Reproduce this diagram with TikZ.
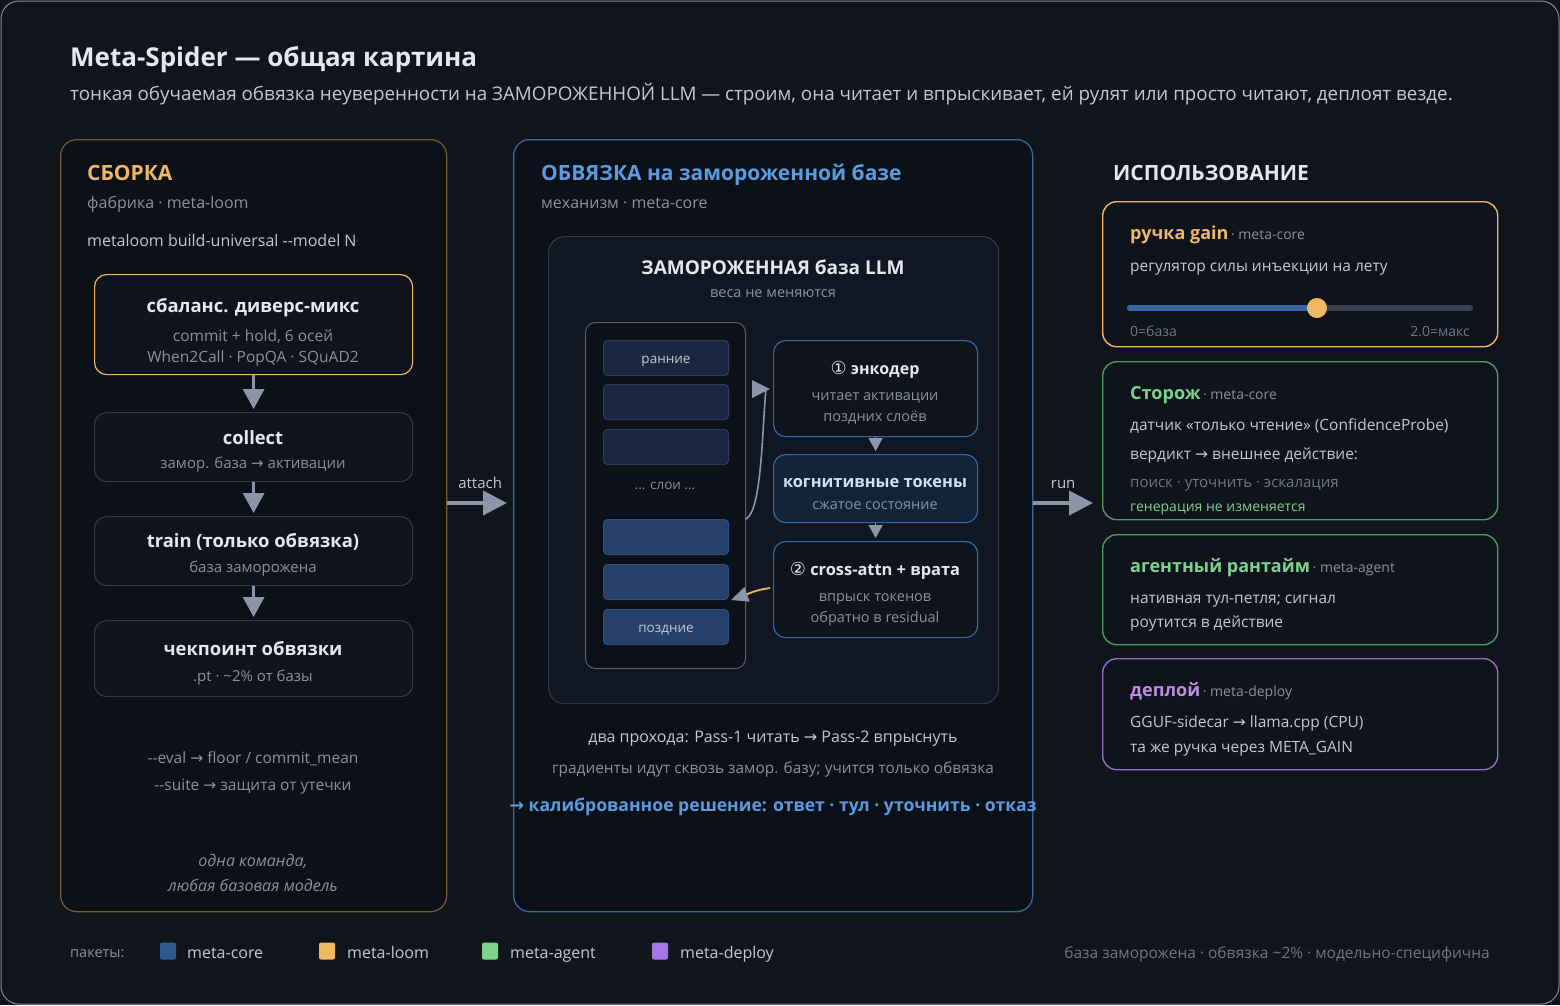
\documentclass[tikz,border=0pt]{standalone}
\usepackage{fontspec}
\setmainfont{Open Sans}
\newfontfamily\djv{DejaVu Sans}
\usetikzlibrary{arrows.meta}
\definecolor{bgc}{HTML}{10141B}
\definecolor{panelc}{HTML}{0C1017}
\definecolor{goldc}{HTML}{F0B862}
\definecolor{goldd}{HTML}{6E5A36}
\definecolor{bluec}{HTML}{5B9BE0}
\definecolor{blued}{HTML}{3568A4}
\definecolor{greenc}{HTML}{7DD38A}
\definecolor{greend}{HTML}{4E9A5C}
\definecolor{purc}{HTML}{C08CE0}
\definecolor{purd}{HTML}{9A6CC0}
\definecolor{txtw}{HTML}{E4E7ED}
\definecolor{txtb}{HTML}{C3C8D1}
\definecolor{txtg}{HTML}{8A92A0}
\definecolor{txtd}{HTML}{6F7886}
\definecolor{boxb}{HTML}{2E3848}
\definecolor{boxf}{HTML}{0E131C}
\definecolor{frzf}{HTML}{111722}
\definecolor{trackc}{HTML}{3A4252}
\definecolor{arrg}{HTML}{8D95A8}
\definecolor{layE}{HTML}{1B2740}
\definecolor{layEb}{HTML}{2C3D5A}
\definecolor{layL}{HTML}{25406A}
\definecolor{layLb}{HTML}{2F4E7C}
\definecolor{cogf}{HTML}{13233A}
\definecolor{legblue}{HTML}{2D5A8E}
\newcommand\fsz[1]{\fontsize{#1}{#1}\selectfont}
\newcommand\rarr{{\djv\char"2192}}
\begin{document}
\begin{tikzpicture}[x=1pt,y=-1pt,
  panel/.style={rounded corners=16pt, fill=panelc, line width=1.3pt, anchor=north west, inner sep=0},
  stepbox/.style={rounded corners=12pt, fill=boxf, draw=boxb, line width=1.2pt, anchor=north west, inner sep=0},
  card/.style={rounded corners=14pt, fill=boxf, line width=1.4pt, anchor=north west, inner sep=0},
  layer/.style={rounded corners=4pt, line width=1pt, anchor=north west, inner sep=0, minimum width=125, minimum height=35},
  txt/.style={inner sep=0, anchor=base west},
  ctxt/.style={inner sep=0, anchor=base},
  vflow/.style={draw=arrg, line width=3.5pt, -{Triangle[width=21pt,length=20pt]}},
  hflow/.style={draw=arrg, line width=4pt, -{Triangle[width=24pt,length=24pt]}},
]
% background
\fill[bgc] (0,0) rectangle (1560,1005);
\draw[rounded corners=18pt, draw=boxb!60, line width=1pt] (1,1) rectangle (1559,1004);
\useasboundingbox (0,0) rectangle (1560,1005);

% title
\node[txt, text=txtw] (title) at (70,66) {\fsz{26}\bfseries Meta-Spider — общая картина};
\node[txt, text=txtb] (subtitle) at (70,100) {\fsz{18.8}тонкая обучаемая обвязка неуверенности на ЗАМОРОЖЕННОЙ LLM — строим, она читает и впрыскивает, ей рулят или просто читают, деплоят везде.};

% ===== left panel =====
\node[panel, draw=goldd, minimum width=386, minimum height=772] (left) at (60,139) {};
\node[txt, text=goldc] (lt) at (87,180) {\fsz{21}\bfseries СБОРКА};
\node[txt, text=txtg] (ls) at (87,208) {\fsz{16}фабрика · meta-loom};
\node[txt, text=txtb] (lc) at (87,246) {\fsz{16}metaloom build-universal -{}-model N};

\node[stepbox, draw=goldc, minimum width=318, minimum height=100] (b1) at (94,274) {};
\node[ctxt, text=txtw] at (253,312) {\fsz{18.4}\bfseries сбаланс. диверс-микс};
\node[ctxt, text=txtg] at (253,341) {\fsz{15.5}commit + hold, 6 осей};
\node[ctxt, text=txtg] at (253,362) {\fsz{15.5}When2Call · PopQA · SQuAD2};

\node[stepbox, minimum width=318, minimum height=69] (b2) at (94,412) {};
\node[ctxt, text=txtw] at (253,444) {\fsz{18.4}\bfseries collect};
\node[ctxt, text=txtg] at (253,468) {\fsz{15}замор. база \rarr{} активации};

\node[stepbox, minimum width=318, minimum height=69] (b3) at (94,516) {};
\node[ctxt, text=txtw] at (253,547) {\fsz{18.4}\bfseries train (только обвязка)};
\node[ctxt, text=txtg] at (253,572) {\fsz{15}база заморожена};

\node[stepbox, minimum width=318, minimum height=76] (b4) at (94,620) {};
\node[ctxt, text=txtw] at (253,655) {\fsz{18.4}\bfseries чекпоинт обвязки};
\node[ctxt, text=txtg] at (253,681) {\fsz{15}.pt · \textasciitilde2\% от базы};

\draw[vflow, shorten >=3pt] (b1.south) -- (b2.north);
\draw[vflow, shorten >=3pt] (b2.south) -- (b3.north);
\draw[vflow, shorten >=3pt] (b3.south) -- (b4.north);

\node[ctxt, text=txtg] at (253,763) {\fsz{15.5}-{}-eval \rarr{} floor / commit\_mean};
\node[ctxt, text=txtg] at (253,790) {\fsz{15.5}-{}-suite \rarr{} защита от утечки};
\node[ctxt, text=txtg] at (253,866) {\fsz{16}\itshape одна команда,};
\node[ctxt, text=txtg] at (253,891) {\fsz{16}\itshape любая базовая модель};

% ===== middle panel =====
\node[panel, draw=blued, minimum width=519, minimum height=772] (mid) at (513,139) {};
\node[txt, text=bluec] (mt) at (541,180) {\fsz{21}\bfseries ОБВЯЗКА на замороженной базе};
\node[txt, text=txtg] (ms) at (541,208) {\fsz{16}механизм · meta-core};

\node[rounded corners=16pt, fill=frzf, draw=boxb, line width=1.2pt, anchor=north west, inner sep=0, minimum width=450, minimum height=467] (frozen) at (548,236) {};
\node[ctxt, text=txtw] at (773,274) {\fsz{19}\bfseries ЗАМОРОЖЕННАЯ база LLM};
\node[ctxt, text=txtg] at (773,297) {\fsz{14.5}веса не меняются};

\node[rounded corners=10pt, fill=panelc, draw=boxb!80, line width=1pt, anchor=north west, inner sep=0, minimum width=160, minimum height=346] (stack) at (585,322) {};
\node[layer, fill=layE, draw=layEb] (l1) at (603,340) {};
\node[ctxt, text=txtb] at (l1.center) [yshift=-5pt] {\fsz{13.5}ранние};
\node[layer, fill=layE, draw=layEb] (l2) at (603,384) {};
\node[layer, fill=layE, draw=layEb] (l3) at (603,429) {};
\node[ctxt, text=txtg] at (665,489) {\fsz{13.5}... слои ...};
\node[layer, fill=layL, draw=layLb] (l4) at (603,519) {};
\node[layer, fill=layL, draw=layLb] (l5) at (603,564) {};
\node[layer, fill=layL, draw=layLb] (l6) at (603,609) {};
\node[ctxt, text=txtb] at (l6.center) [yshift=-5pt] {\fsz{13.5}поздние};

\node[stepbox, draw=blued, minimum width=204, minimum height=96] (enc) at (773,340) {};
\node[ctxt, text=txtw] at (875,374) {\fsz{16}{\djv\fsz{18}\char"2460} \bfseries энкодер};
\node[ctxt, text=txtg] at (875,400) {\fsz{14.5}читает активации};
\node[ctxt, text=txtg] at (875,421) {\fsz{14.5}поздних слоёв};

\node[stepbox, draw=blued, fill=cogf, minimum width=204, minimum height=68] (cog) at (773,454) {};
\node[ctxt, text=txtw!90!bluec] at (875,487) {\fsz{16.4}\bfseries когнитивные токены};
\node[ctxt, text=txtg] at (875,509) {\fsz{14.5}сжатое состояние};

\node[stepbox, draw=blued, minimum width=204, minimum height=96] (xat) at (773,541) {};
\node[ctxt, text=txtw] at (875,575) {\fsz{16.4}{\djv\fsz{18}\char"2461} \bfseries cross-attn + врата};
\node[ctxt, text=txtg] at (875,601) {\fsz{14.5}впрыск токенов};
\node[ctxt, text=txtg] at (875,622) {\fsz{14.5}обратно в residual};

\draw[draw=arrg, line width=1.5pt, -{Triangle[width=14pt,length=13pt]}, shorten >=3pt] (enc.south) -- (cog.north);
\draw[draw=arrg, line width=1.5pt, -{Triangle[width=14pt,length=13pt]}, shorten >=3pt] (cog.south) -- (xat.north);

% read curve: late layers -> encoder
\coordinate (cs) at (746,519);
\coordinate (ctop) at (766,389);
\coordinate (ce) at (770,389);
\draw[draw=arrg, line width=1.6pt, line cap=round] (cs) .. controls (762,510) and (762,430) .. (ctop);
\fill[arrg] (752,380) -- (ce) -- (752,398) -- cycle;
% inject curve: cross-attn -> late layer
\coordinate (os) at (770,588);
\coordinate (oe) at (731,600);
\draw[draw=goldc, line width=1.8pt, -{Triangle[width=15pt,length=17pt,color=arrg]}] (os) .. controls (755,590) and (748,594) .. (oe);

\node[ctxt, text=txtb] at (773,742) {\fsz{16}два прохода: Pass-1 читать \rarr{} Pass-2 впрыснуть};
\node[ctxt, text=txtg] at (773,773) {\fsz{15.4}градиенты идут сквозь замор. базу; учится только обвязка};
\node[ctxt, text=bluec] at (773,811) {\fsz{17.6}\bfseries \rarr{} калиброванное решение: ответ · тул · уточнить · отказ};

% ===== inter-panel arrows =====
\draw[hflow, shorten >=6pt] (left.east |- 0,503) -- (mid.west |- 0,503) node[midway, above=12pt, text=txtb, inner sep=0] {\fsz{15}attach};
\coordinate (runend) at (1093,503);
\draw[hflow] (mid.east |- 0,503) -- (runend) node[midway, above=12pt, text=txtb, inner sep=0] {\fsz{15}run};

% ===== right column =====
\node[txt, text=txtw] (rt) at (1113,180) {\fsz{21}\bfseries ИСПОЛЬЗОВАНИЕ};

\node[card, draw=goldc, minimum width=395, minimum height=145] (c1) at (1102,201) {};
\node[txt] at (1130,239) {{\fsz{18}\bfseries\color{goldc}ручка gain} {\fsz{14}\color{txtg}· meta-core}};
\node[txt, text=txtb] at (1130,271) {\fsz{15.5}регулятор силы инъекции на лету};
\draw[line width=6pt, line cap=round, draw=trackc] (1130,308) -- (1470,308);
\draw[line width=6pt, line cap=round, draw=blued] (1130,308) -- (1317,308);
\node[circle, fill=goldc, minimum size=20pt, inner sep=0] (knob) at (1317,308) {};
\node[txt, text=txtd] at (1130,336) {\fsz{14}0=база};
\node[inner sep=0, anchor=base east, text=txtd] at (1470,336) {\fsz{14}2.0=макс};

\node[card, draw=greend, minimum width=395, minimum height=158] (c2) at (1102,361) {};
\node[txt] at (1130,399) {{\fsz{18}\bfseries\color{greenc}Сторож} {\fsz{14}\color{txtg}· meta-core}};
\node[txt, text=txtb] at (1130,430) {\fsz{15.5}датчик «только чтение» (ConfidenceProbe)};
\node[txt, text=txtb] at (1130,459) {\fsz{15.5}вердикт \rarr{} внешнее действие:};
\node[txt, text=txtd] at (1130,487) {\fsz{15}поиск · уточнить · эскалация};
\node[txt, text=greenc] at (1130,511) {\fsz{14}генерация не изменяется};

\node[card, draw=greend, minimum width=395, minimum height=110] (c3) at (1102,534) {};
\node[txt] at (1130,572) {{\fsz{18}\bfseries\color{greenc}агентный рантайм} {\fsz{14}\color{txtg}· meta-agent}};
\node[txt, text=txtb] at (1130,603) {\fsz{15.5}нативная тул-петля; сигнал};
\node[txt, text=txtb] at (1130,627) {\fsz{15.5}роутится в действие};

\node[card, draw=purd, minimum width=395, minimum height=111] (c4) at (1102,658) {};
\node[txt] at (1130,696) {{\fsz{18}\bfseries\color{purc}деплой} {\fsz{14}\color{txtg}· meta-deploy}};
\node[txt, text=txtb] at (1130,727) {\fsz{15.5}GGUF-sidecar \rarr{} llama.cpp (CPU)};
\node[txt, text=txtb] at (1130,752) {\fsz{15.5}та же ручка через META\_GAIN};

% ===== legend =====
\node[txt, text=txtg] at (70,957) {\fsz{14.5}пакеты:};
\node[rounded corners=2pt, fill=legblue, minimum width=16, minimum height=17, inner sep=0] (k1) at (168,951) {};
\node[txt, text=txtb] at (187,958) {\fsz{16}meta-core};
\node[rounded corners=2pt, fill=goldc, minimum width=16, minimum height=17, inner sep=0] (k2) at (327,951) {};
\node[txt, text=txtb] at (347,958) {\fsz{16}meta-loom};
\node[rounded corners=2pt, fill=greenc, minimum width=16, minimum height=17, inner sep=0] (k3) at (490,951) {};
\node[txt, text=txtb] at (510,958) {\fsz{16}meta-agent};
\node[rounded corners=2pt, fill=purc!85!blue, minimum width=16, minimum height=17, inner sep=0] (k4) at (660,951) {};
\node[txt, text=txtb] at (680,958) {\fsz{16}meta-deploy};
\node[inner sep=0, anchor=base east, text=txtd] at (1490,958) {\fsz{15.5}база заморожена · обвязка \textasciitilde2\% · модельно-специфична};
\end{tikzpicture}
\end{document}
